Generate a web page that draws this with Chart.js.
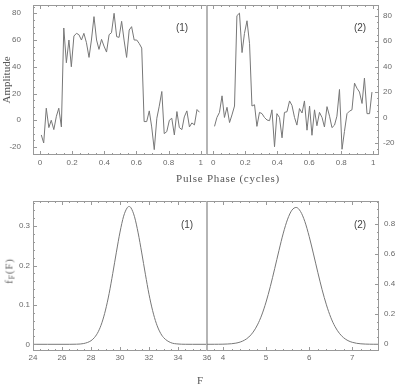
<!DOCTYPE html>
<html><head><meta charset="utf-8">
<script src="https://cdn.jsdelivr.net/npm/chart.js@4.4.1/dist/chart.umd.min.js"></script>
<style>
html,body{margin:0;padding:0;background:#fff;}
#wrap{position:relative;width:400px;height:386px;overflow:hidden;background:#fff;}
canvas{position:absolute;left:0;top:0;}
.t{position:absolute;font-family:"Liberation Serif",serif;color:#555;white-space:nowrap;transform:translate(-50%,-50%);line-height:1;}
.p{position:absolute;font-family:"Liberation Sans",sans-serif;font-size:10px;color:#444;transform:translate(-50%,-50%);line-height:1;}
sub{font-size:8px;vertical-align:-2px;}
</style></head><body>
<div id="wrap">
<canvas id="c1" width="400" height="386"></canvas>
<canvas id="c2" width="400" height="386"></canvas>
<canvas id="c3" width="400" height="386"></canvas>
<canvas id="c4" width="400" height="386"></canvas>
<div class="t" style="left:228px;top:178px;font-size:11px;letter-spacing:0.7px">Pulse Phase (cycles)</div>
<div class="t" style="left:200px;top:380px;font-size:11px">F</div>
<div class="t" style="left:10px;top:271px;font-size:11px;letter-spacing:0.8px;color:#666;transform:translate(-50%,-50%) rotate(-90deg)">f<sub>F</sub>(F)</div>
<div class="p" style="left:182px;top:28px">(1)</div>
<div class="p" style="left:360px;top:28px">(2)</div>
<div class="p" style="left:187px;top:225px">(1)</div>
<div class="p" style="left:360px;top:225px">(2)</div>
</div>
<script>
// ---- data ----
const phase = [0.008,0.023,0.039,0.055,0.070,0.086,0.102,0.117,0.133,0.148,0.164,0.180,0.195,0.211,0.227,0.242,
  0.258,0.273,0.289,0.305,0.320,0.336,0.352,0.367,0.383,0.398,0.414,0.430,0.445,0.461,0.477,0.492,
  0.508,0.523,0.539,0.555,0.570,0.586,0.602,0.617,0.633,0.648,0.664,0.680,0.695,0.711,0.727,0.742,
  0.758,0.773,0.789,0.805,0.820,0.836,0.852,0.867,0.883,0.898,0.914,0.930,0.945,0.961,0.977,0.992];
const amp1 = [-11,-17,9,-5.5,0,-7,3,9,-5,69,
  43,60,40,63,65,64,60,65,58,47,
  60,77.5,60,53,60.5,55.5,51,64,65.5,80,
  62.5,62,74,60,47,67.5,70,60,60,57.5,
  54,-1,-1,7,-5,-22,1.5,10.5,21.5,-10,
  -8.5,0,1.5,-11,6.5,-5.5,-7,2.5,7,-5,
  -2,-3.5,8,6];
const amp2 = [-7,0,4,17,0,8,-4,2,9,80,
  82,51,66,76,58,9,10,-7,4,3,
  0,-2,-2.5,6,-23,3,0,-16,4,4.5,
  13,9.5,0,-6,7,3.5,13,-10,9,-14,
  6,-6.5,4,0,-7.5,8.5,1,-8,-6,1,
  22,-25,-11,3,5,6,27,23,20,11,
  31,3,3,20];
const F1 = [24,25,26,26.5,27,27.5,28,28.25,28.5,28.75,29,29.25,29.5,29.75,30,30.25,30.5,30.625,30.75,
  31,31.25,31.5,31.75,32,32.25,32.5,32.75,33,33.5,34,34.5,35,36];
const pdf1 = [0,0,0,0,0.0003,0.002,0.0091,0.0177,0.032,0.0546,0.087,0.129,0.18,0.234,0.285,0.3254,0.347,0.35,0.347,
  0.324,0.283,0.232,0.178,0.127,0.0854,0.0535,0.0314,0.0173,0.0043,0.0008,0.0001,0,0];
const F2 = [3.6,3.7,3.8,3.9,4.0,4.1,4.2,4.3,4.4,4.5,4.6,4.7,4.8,4.9,5.0,5.1,5.2,5.3,5.4,5.5,5.6,5.7,
  5.8,5.9,6.0,6.1,6.2,6.3,6.4,6.5,6.6,6.7,6.8,6.9,7.0,7.1,7.2,7.3,7.4,7.5,7.6,7.7];
const pdf2 = [0,0,0.0001,0.0003,0.0008,0.0018,0.0038,0.0077,0.015,0.0277,0.0485,0.0811,0.129,0.195,0.2815,0.386,0.504,0.626,0.741,0.834,0.894,0.912,
  0.885,0.818,0.719,0.602,0.48,0.364,0.263,0.18,0.118,0.0735,0.0435,0.0245,0.0132,0.0067,0.0033,0.0015,0.0006,0.0002,0.0001,0];
// tick labels
const phaseTicks = [0,0.2,0.4,0.6,0.8,1];
const ampTicks = [-20,0,20,40,60,80];
const F1Ticks = [24,26,28,30,32,34,36];
const pdf1Ticks = [0,0.1,0.2,0.3];
const F2Ticks = [4,5,6,7];
const pdf2Ticks = [0,0.2,0.4,0.6,0.8];

// ---- drawing ----
const LINE = '#777';
const FRAME = '#999';
const tickFont = {family: 'Liberation Sans', size: 8};
const tickColor = '#6a6a6a';

const boxPlugin = {
  id: 'box',
  afterDatasetsDraw(chart, args, o) {
    const {ctx, chartArea: a} = chart;
    const xs = chart.scales.x, ys = chart.scales.y;
    const L = Math.round(a.left), R = Math.round(a.right), T = Math.round(a.top), B = Math.round(a.bottom);
    ctx.save();
    ctx.strokeStyle = FRAME;
    ctx.lineWidth = 1;
    ctx.beginPath();
    ctx.moveTo(L, T + 0.5); ctx.lineTo(R, T + 0.5);
    ctx.moveTo(L, B - 0.5); ctx.lineTo(R, B - 0.5);
    if (o.ySide === 'left') { ctx.moveTo(L + 0.5, T); ctx.lineTo(L + 0.5, B); }
    else { ctx.moveTo(R - 0.5, T); ctx.lineTo(R - 0.5, B); }
    const minor = (scale, step) => {
      const out = [];
      const n0 = Math.ceil(scale.min / step - 1e-9), n1 = Math.floor(scale.max / step + 1e-9);
      for (let n = n0; n <= n1; n++) out.push(n * step);
      return out;
    };
    const xMaj = xs.ticks.map(t => t.value), yMaj = ys.ticks.map(t => t.value);
    const xtick = (v, len) => {
      const px = Math.round(xs.getPixelForValue(v)) + 0.5;
      ctx.moveTo(px, B); ctx.lineTo(px, B - len);
      ctx.moveTo(px, T); ctx.lineTo(px, T + len);
    };
    const ytick = (v, len) => {
      const py = Math.round(ys.getPixelForValue(v)) + 0.5;
      if (o.ySide === 'left') { ctx.moveTo(L, py); ctx.lineTo(L + len, py); }
      else { ctx.moveTo(R, py); ctx.lineTo(R - len, py); }
    };
    minor(xs, o.xMinor).forEach(v => xtick(v, 2));
    xMaj.forEach(v => xtick(v, 4));
    minor(ys, o.yMinor).forEach(v => ytick(v, 2));
    yMaj.forEach(v => ytick(v, 4));
    ctx.stroke();
    if (o.ySide === 'left') {
      ctx.beginPath();
      ctx.strokeStyle = '#b5b5b5';
      ctx.lineWidth = 2;
      ctx.moveTo(R, T); ctx.lineTo(R, B);
      ctx.stroke();
    }
    ctx.restore();
  }
};

function makeChart(id, c) {
  const ySide = c.ySide;
  return new Chart(document.getElementById(id), {
    type: 'line',
    data: {
      datasets: [{
        data: c.xs.map((x, i) => ({x: x, y: c.ys[i]})),
        borderColor: LINE, borderWidth: 1, pointRadius: 0, fill: false,
        tension: c.smooth ? 0.4 : 0,
        cubicInterpolationMode: c.smooth ? 'monotone' : 'default'
      }]
    },
    options: {
      responsive: false, animation: false, devicePixelRatio: 1,
      layout: {padding: c.pad},
      plugins: {legend: {display: false}, tooltip: {enabled: false},
        box: {ySide: ySide, xMinor: c.xMinor, yMinor: c.yMinor}},
      scales: {
        x: {
          type: 'linear', position: 'bottom', min: c.xMin, max: c.xMax,
          afterBuildTicks: s => { s.ticks = c.xTicks.map(v => ({value: v})); },
          afterFit: s => { s.height = 20; s.paddingLeft = 0; s.paddingRight = 0; s.paddingTop = 0; s.paddingBottom = 0; },
          grid: {display: false, drawTicks: false, tickLength: 0},
          border: {display: false},
          ticks: {font: tickFont, color: tickColor, padding: c.xPad, maxRotation: 0, minRotation: 0, autoSkip: false,
            callback: v => String(v)}
        },
        y: {
          type: 'linear', position: ySide, min: c.yMin, max: c.yMax,
          afterBuildTicks: s => { s.ticks = c.yTicks.map(v => ({value: v})); },
          afterFit: s => { s.width = c.yW; s.paddingLeft = 0; s.paddingRight = 0; s.paddingTop = 0; s.paddingBottom = 0; },
          grid: {display: false, drawTicks: false, tickLength: 0},
          border: {display: false},
          title: c.yTitle ? {display: true, text: c.yTitle, color: '#555',
            font: {family: 'Liberation Serif', size: 11}, padding: {top: 1, bottom: 0}} : {display: false},
          ticks: {font: tickFont, color: tickColor, padding: c.yPad, autoSkip: false,
            callback: v => String(v)}
        }
      }
    },
    plugins: [boxPlugin]
  });
}

makeChart('c1', {xs: phase, ys: amp1, xMin: -0.0436, xMax: 1.0392, yMin: -26, yMax: 86.2,
  xTicks: phaseTicks, yTicks: ampTicks, xMinor: 0.05, yMinor: 5, ySide: 'left', yW: 33,
  xPad: 3, yPad: 12, yTitle: 'Amplitude', pad: {left: 0, right: 193, top: 5, bottom: 211}});
makeChart('c2', {xs: phase, ys: amp2, xMin: -0.039, xMax: 1.036, yMin: -29.5, yMax: 88.4,
  xTicks: phaseTicks, yTicks: ampTicks, xMinor: 0.05, yMinor: 5, ySide: 'right', yW: 21,
  xPad: 3, yPad: 4, pad: {left: 207, right: 0, top: 5, bottom: 211}});
makeChart('c3', {xs: F1, ys: pdf1, smooth: true, xMin: 24, xMax: 36, yMin: -0.017, yMax: 0.364,
  xTicks: F1Ticks, yTicks: pdf1Ticks, xMinor: 0.5, yMinor: 0.02, ySide: 'left', yW: 33,
  xPad: 1.5, yPad: 3, pad: {left: 0, right: 193, top: 201, bottom: 15}});
makeChart('c4', {xs: F2, ys: pdf2, smooth: true, xMin: 3.63, xMax: 7.62, yMin: -0.0447, yMax: 0.955,
  xTicks: F2Ticks, yTicks: pdf2Ticks, xMinor: 0.2, yMinor: 0.05, ySide: 'right', yW: 21,
  xPad: 1.5, yPad: 5, pad: {left: 207, right: 0, top: 201, bottom: 15}});
</script>
</body></html>
